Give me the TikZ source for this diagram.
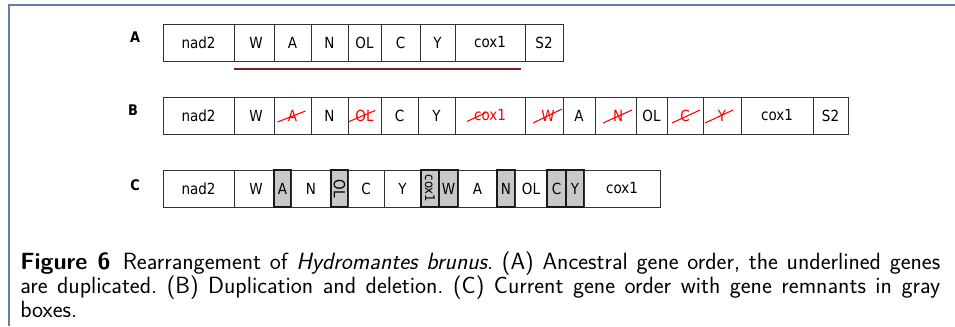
\documentclass[tikz,border=0pt]{standalone}
\usepackage{fontspec}
\newfontfamily\genefont[FakeStretch=0.88]{DejaVu Sans}
\definecolor{framecol}{HTML}{5F7FA6}
\definecolor{uline}{HTML}{7A2020}
\definecolor{remfill}{HTML}{C8C8C8}
\newcommand\gbox[7]{%
  \pgfmathsetmacro\gw{(#3-#2)*0.75}%
  \pgfmathsetmacro\gh{(#5-#4)*0.75}%
  \node[#6, minimum width=\gw pt, minimum height=\gh pt] (#1) at ({(#2+#3)/2},{(#4+#5)/2}) {#7};}
\begin{document}
\begin{tikzpicture}[x=0.75pt,y=-0.75pt,
  gene/.style={draw=black!80, line width=0.7pt, fill=white, inner sep=0pt, outer sep=0pt,
    font=\genefont\fontsize{11.5}{12}\selectfont},
  remnant/.style={gene, fill=remfill, line width=1.5pt, draw=black!90},
  cut/.style={red, line width=0.8pt},
  rowlab/.style={font=\genefont\bfseries\fontsize{11}{12}\selectfont, inner sep=0pt},
  frame/.style={draw=framecol, line width=1.3pt},
  dupline/.style={draw=uline, line width=1.1pt}]
\useasboundingbox (0,0) rectangle (955,326);
\draw[frame] (955,5) -- (9,5) -- (9,326);
% Row A
\node[rowlab] (la) at (135,37) {A};
\gbox{a1}{163}{234}{24}{61}{gene}{nad2}
\gbox{a2}{234}{274}{24}{61}{gene}{\hspace{3pt}W}
\gbox{a3}{274}{311}{24}{61}{gene}{A}
\gbox{a4}{311}{348}{24}{61}{gene}{N}
\gbox{a5}{348}{381}{24}{61}{gene}{OL}
\gbox{a6}{381}{420}{24}{61}{gene}{C}
\gbox{a7}{420}{455}{24}{61}{gene}{Y}
\gbox{a8}{455}{525}{24}{61}{gene}{cox1\hspace{14pt}}
\gbox{a9}{525}{563}{24}{61}{gene}{S2}
\coordinate (u1) at (a2.south west |- 0,69);
\coordinate (u2) at (521,69);
\draw[dupline] (u1) -- (u2);
% Row B
\node[rowlab] (lb) at (133,110) {B};
\gbox{b1}{163}{234}{97}{134}{gene}{nad2}
\gbox{b2}{234}{274}{97}{134}{gene}{\hspace{3pt}W}
\gbox{b3}{274}{311}{97}{134}{gene}{\color{red}A}
\gbox{b4}{311}{348}{97}{134}{gene}{N}
\gbox{b5}{348}{381}{97}{134}{gene}{\color{red}OL}
\gbox{b6}{381}{418}{97}{134}{gene}{C}
\gbox{b7}{418}{455}{97}{134}{gene}{Y}
\gbox{b8}{455}{525}{97}{134}{gene}{\color{red}cox1\hspace{14pt}}
\gbox{b9}{525}{563}{97}{134}{gene}{\color{red}\hspace{6pt}W}
\gbox{b10}{563}{595}{97}{134}{gene}{A}
\gbox{b11}{595}{636}{97}{134}{gene}{\color{red}\hspace{4pt}N}
\gbox{b12}{636}{667}{97}{134}{gene}{OL}
\gbox{b13}{667}{703}{97}{134}{gene}{\color{red}C}
\gbox{b14}{703}{741}{97}{134}{gene}{\color{red}Y}
\gbox{b15}{741}{813}{97}{134}{gene}{cox1\hspace{14pt}}
\gbox{b16}{813}{848}{97}{134}{gene}{S2}
\draw[cut] ([shift={(-15,6.5)}]b3.center) -- ([shift={(13,-4.5)}]b3.center);
\draw[cut] ([shift={(-16.5,6.5)}]b5.center) -- ([shift={(10.5,-5)}]b5.center);
\draw[cut] ([shift={(-23,6)}]b8.center) -- ([shift={(-4,-3)}]b8.center);
\draw[cut] ([shift={(-11,7.5)}]b9.center) -- ([shift={(18,-6.5)}]b9.center);
\draw[cut] ([shift={(-12.5,7.5)}]b11.center) -- ([shift={(16.5,-5.5)}]b11.center);
\draw[cut] ([shift={(-13,7.5)}]b13.center) -- ([shift={(15,-5.5)}]b13.center);
\draw[cut] ([shift={(-17,7.5)}]b14.center) -- ([shift={(11,-5.5)}]b14.center);
% Row C
\node[rowlab] (lc) at (135,185) {C};
\gbox{c1}{163}{234}{170}{207}{gene}{nad2}
\gbox{c2}{234}{274}{170}{207}{gene}{\hspace{3pt}W}
\gbox{c3}{274}{291}{170}{207}{remnant}{A}
\gbox{c4}{291}{331}{170}{207}{gene}{N}
\gbox{c5}{331}{348}{170}{207}{remnant}{\rotatebox{-90}{OL}}
\gbox{c6}{348}{384}{170}{207}{gene}{C}
\gbox{c7}{384}{421}{170}{207}{gene}{Y}
\gbox{c8}{421}{439}{170}{207}{remnant}{\rotatebox{-90}{\fontsize{10}{10}\selectfont cox1}}
\gbox{c9}{439}{458}{170}{207}{remnant}{W}
\gbox{c10}{458}{497}{170}{207}{gene}{A}
\gbox{c11}{497}{515}{170}{207}{remnant}{N}
\gbox{c12}{515}{547}{170}{207}{gene}{OL}
\gbox{c13}{547}{566}{170}{207}{remnant}{C}
\gbox{c14}{566}{584}{170}{207}{remnant}{Y}
\gbox{c15}{584}{660}{170}{207}{gene}{cox1}
% Caption
\node[anchor=base west, inner sep=0pt] (cap) at (20,269) {\parbox[t]{690pt}{\sffamily\fontsize{17.6}{15.4}\selectfont\frenchspacing
\textbf{Figure 6}\hspace{0.15em} Rearrangement of \textit{Hydromantes brunus}. (A) Ancestral gene order, the underlined genes\linebreak
are duplicated. (B) Duplication and deletion. (C) Current gene order with gene remnants in gray\linebreak
boxes.}};
\end{tikzpicture}
\end{document}
